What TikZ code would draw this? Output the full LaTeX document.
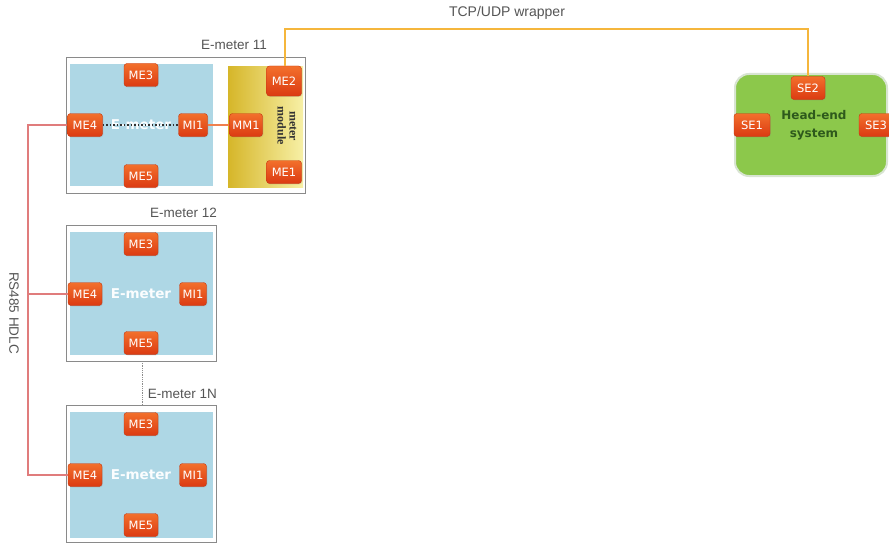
\documentclass[tikz,border=0pt]{standalone}
\usepackage{fontspec}
\setmainfont{Liberation Sans}
\newfontfamily\portfont{DejaVu Sans}
\newfontfamily\serifbold{Liberation Serif}
\usetikzlibrary{shadows}
\definecolor{portA}{HTML}{F3702C}
\definecolor{portB}{HTML}{DB3A12}
\definecolor{portD}{HTML}{C4360F}
\definecolor{meterblue}{HTML}{AED7E5}
\definecolor{framegray}{HTML}{8A8A8A}
\definecolor{labelgray}{HTML}{555555}
\definecolor{busred}{HTML}{E07C7C}
\definecolor{tcporange}{HTML}{F5B63C}
\definecolor{linkorange}{HTML}{F0804E}
\definecolor{goldL}{HTML}{D6B629}
\definecolor{goldR}{HTML}{F7F0A6}
\definecolor{heGreen}{HTML}{8CC84B}
\definecolor{heBorder}{HTML}{D8E4D2}
\definecolor{heText}{HTML}{2E5A1C}
\tikzset{
  port/.style={rounded corners=3pt, top color=portA, bottom color=portB, draw=portD, line width=0.4pt,
    text=white, font=\portfont\fontsize{11.5}{13}\selectfont, minimum width=34pt, minimum height=23pt, inner sep=0pt,
    drop shadow={shadow xshift=0.8pt, shadow yshift=-0.8pt, opacity=0.25}},
  tallport/.style={port, minimum height=30pt},
  frame/.style={draw=framegray, fill=white, line width=0.8pt},
  inner/.style={fill=meterblue, draw=none},
  lbl/.style={text=labelgray, font=\fontsize{13.5}{15}\selectfont, inner sep=0pt},
  metertxt/.style={text=white!95!meterblue, font=\portfont\bfseries\fontsize{13.5}{15}\selectfont},
  bus/.style={draw=busred, line width=1.8pt},
  tcp/.style={draw=tcporange, line width=1.8pt},
}
\begin{document}
\begin{tikzpicture}[x=1pt,y=-1pt]
\clip (0,0) rectangle (889,543);
\fill[white] (0,0) rectangle (889,543);

% ---------- E-meter 11 ----------
\draw[frame] (66,57) rectangle (305,193);
\fill[inner] (70,64) rectangle (213,186);
\shade[left color=goldL, right color=goldR] (228,67) rectangle (303,187);
\node[metertxt] (t11) at (141,125) {E-meter};
\node[lbl, anchor=base east] (l11) at (267,50) {E-meter 11};
\node[port] (a3) at (141,75) {ME3};
\node[port, minimum width=35pt] (a4) at (85,125) {ME4};
\node[port, minimum width=29pt] (ai1) at (193,125) {MI1};
\node[port, minimum width=33pt] (mm1) at (246,125) {MM1};
\node[port] (a5) at (141,176) {ME5};
\node[tallport, minimum width=35pt] (me2) at (284,81) {ME2};
\node[port, minimum width=35pt] (me1) at (284,172) {ME1};
\node[rotate=-90, align=center, text=black!80, font=\serifbold\bfseries\fontsize{12}{12}\selectfont, inner sep=0pt] (mod) at (287,126) {meter\\module};
\draw[black!80, line width=1.5pt, dotted] (a4.east) -- (ai1.west);
\draw[linkorange, line width=1.8pt] (ai1.east) -- (mm1.west);

% ---------- E-meter 12 ----------
\draw[frame] (66,225) rectangle (216,361);
\fill[inner] (70,232) rectangle (213,355);
\node[metertxt] (t12) at (141,294) {E-meter};
\node[lbl, anchor=base east] (l12) at (217,217) {E-meter 12};
\node[port] (b3) at (141,244) {ME3};
\node[port] (b4) at (85,294) {ME4};
\node[port, minimum width=27pt] (bi1) at (193,294) {MI1};
\node[port] (b5) at (141,343) {ME5};

% ---------- E-meter 1N ----------
\draw[frame] (66,405) rectangle (216,542);
\fill[inner] (70,412) rectangle (213,538);
\node[metertxt] (t1n) at (141,475) {E-meter};
\node[lbl, anchor=base east] (l1n) at (217,398) {E-meter 1N};
\node[port] (c3) at (141,424) {ME3};
\node[port] (c4) at (85,475) {ME4};
\node[port, minimum width=27pt] (ci1) at (193,475) {MI1};
\node[port] (c5) at (141,525) {ME5};

\coordinate (g1) at (142,361);
\coordinate (g2) at (142,405);
\draw[black!45, line width=0.8pt, densely dotted] (g1) -- (g2);

% ---------- RS485 bus ----------
\coordinate (bt) at (28,125);
\coordinate (bm) at (28,294);
\coordinate (bb) at (28,475);
\draw[bus] (a4.west) -- (bt) -- (bb) -- (c4.west);
\draw[bus] (bm) -- (b4.west);
\node[lbl, rotate=-90] (rs) at (14,313) {RS485 HDLC};

% ---------- Head-end system ----------
\draw[fill=heGreen, draw=heBorder, line width=2pt, rounded corners=14pt] (735,74) rectangle (887,176);
\node[align=center, text=heText, font=\portfont\bfseries\fontsize{12}{18}\selectfont] (he) at (814,125) {Head-end\\system};
\node[port] (se2) at (808,88) {SE2};
\node[port, minimum width=36pt] (se1) at (752,125) {SE1};
\node[port] (se3) at (876,125) {SE3};

% ---------- TCP/UDP wrapper ----------
\coordinate (tl) at (285,29);
\coordinate (tr) at (808,29);
\draw[tcp] (me2.north -| tl) -- (tl) -- (tr) -- (se2.north);
\node[lbl, font=\fontsize{14}{16}\selectfont] (tcpl) at (507,13) {TCP/UDP wrapper};
\end{tikzpicture}
\end{document}
